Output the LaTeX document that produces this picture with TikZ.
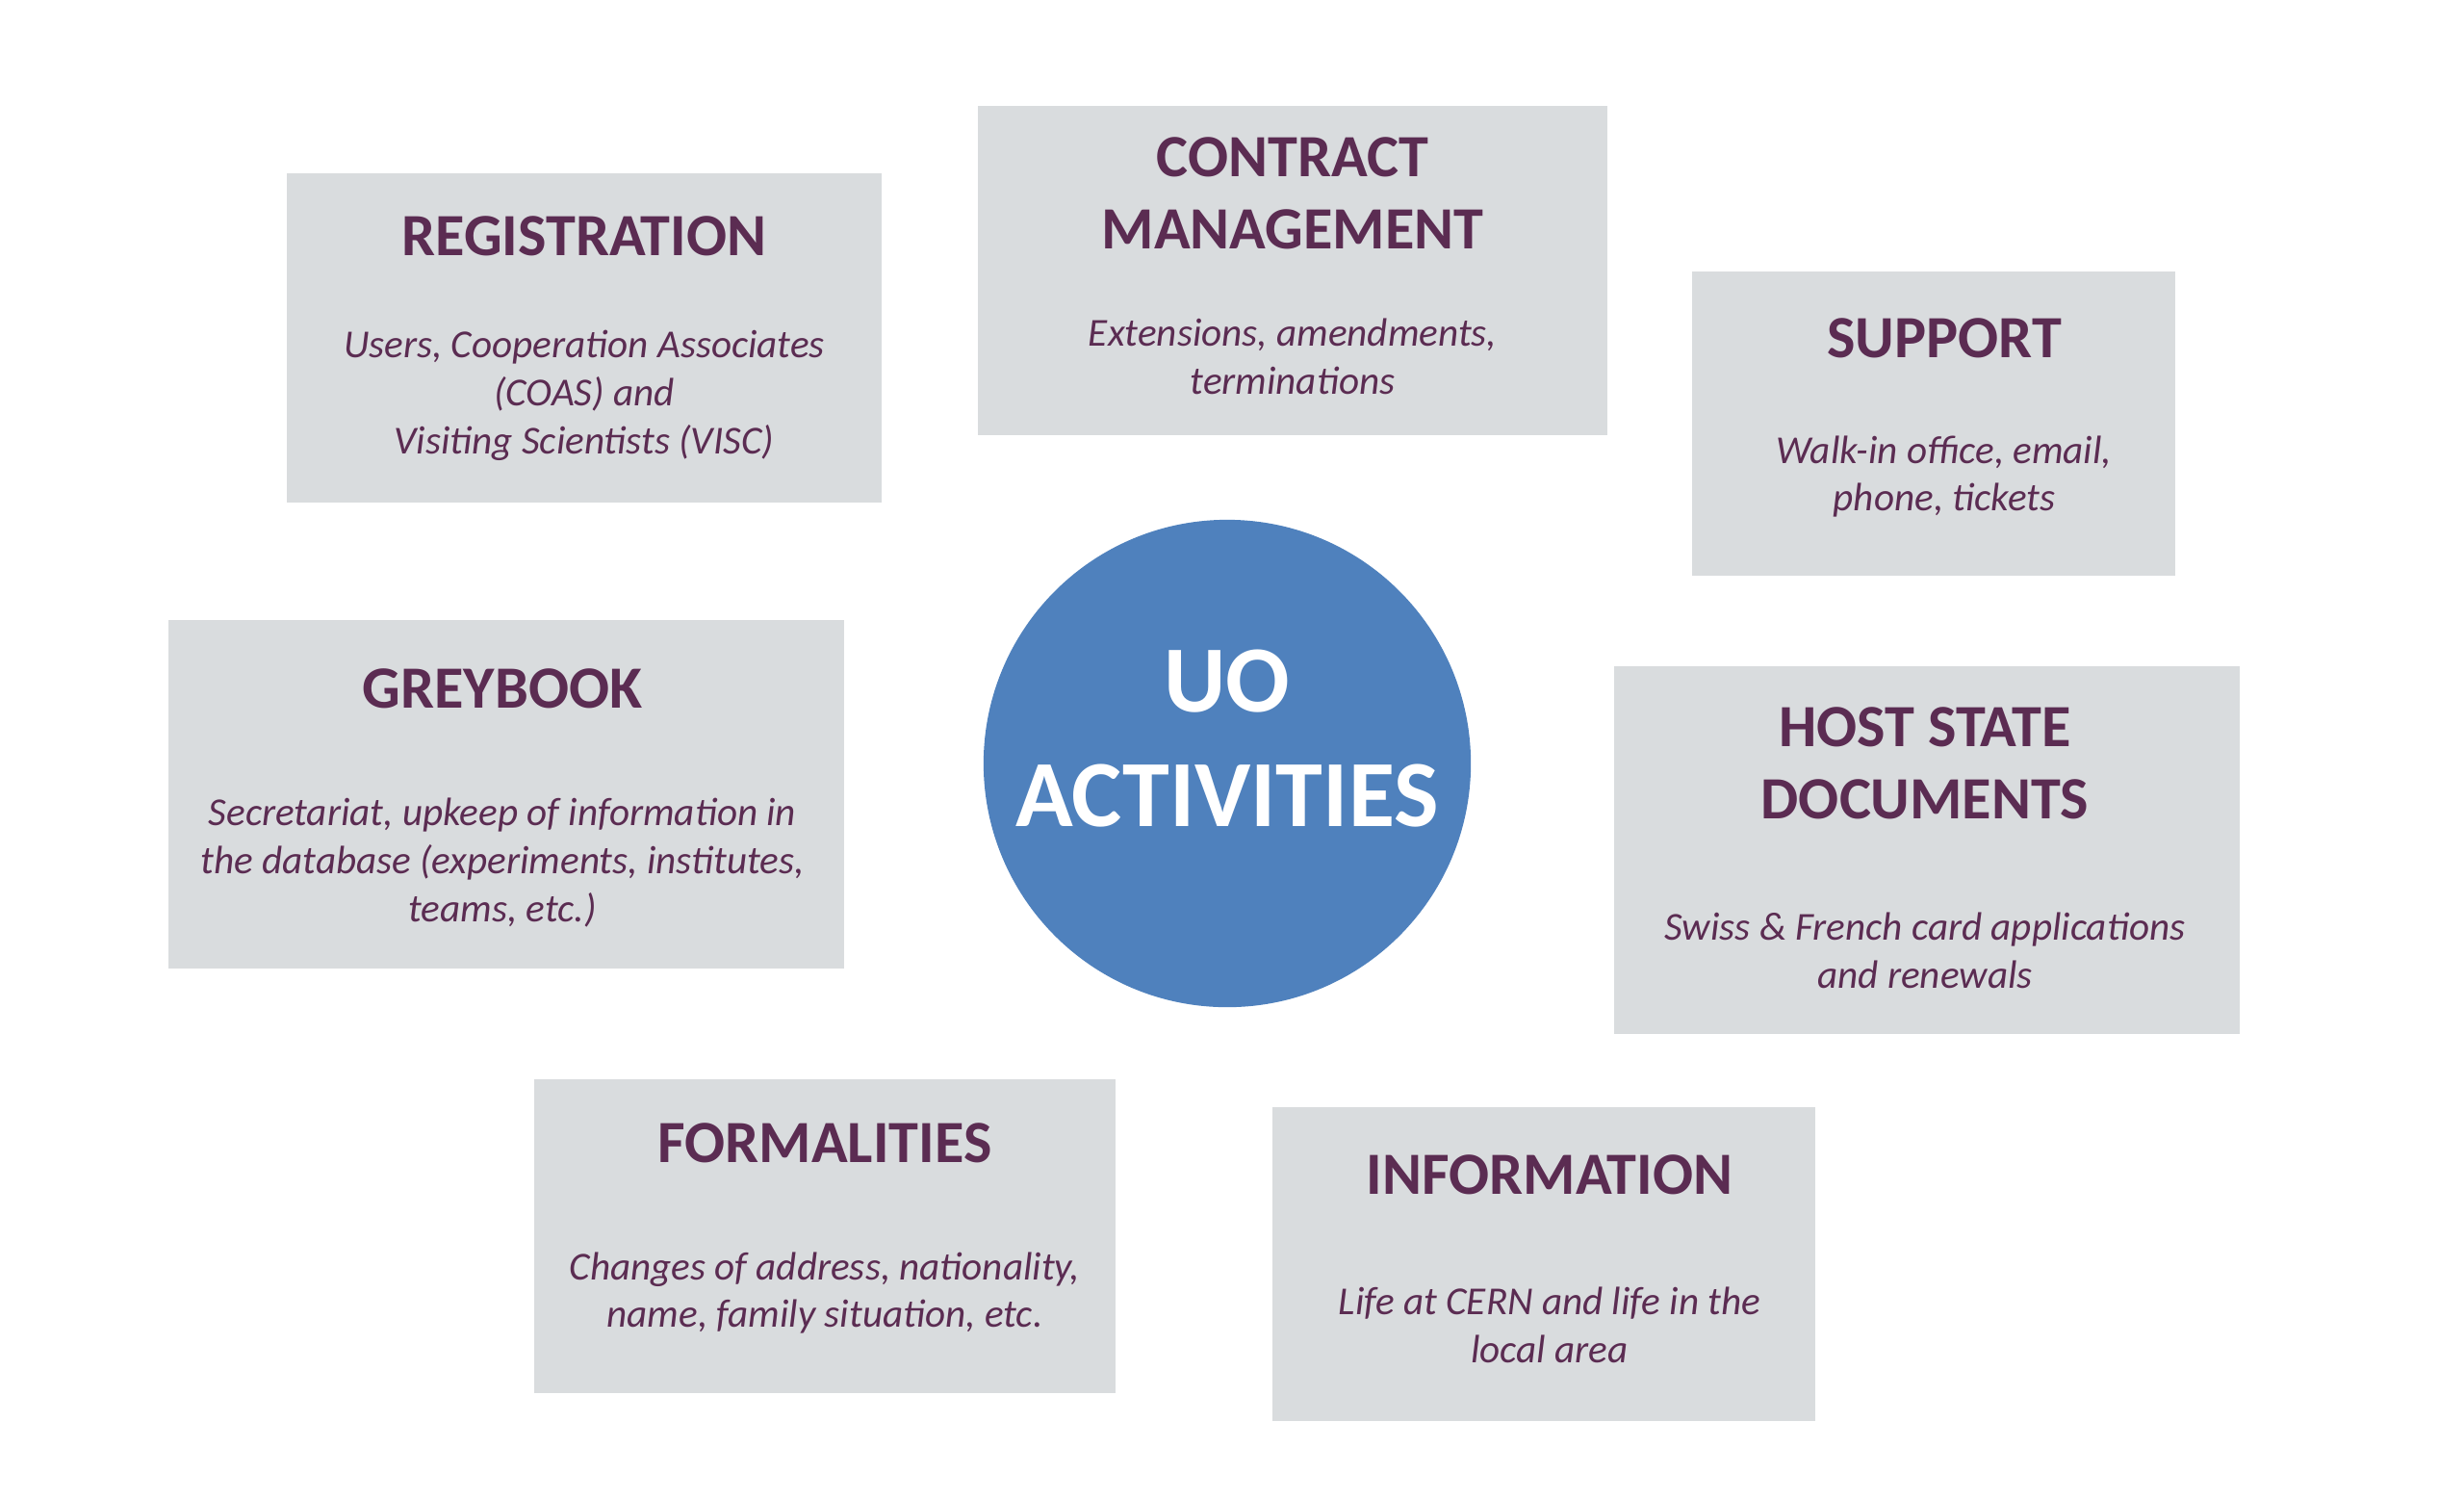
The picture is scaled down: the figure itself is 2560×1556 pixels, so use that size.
\documentclass[tikz,border=0pt]{standalone}
\usepackage{fontspec}
\setmainfont{Carlito}
\usetikzlibrary{positioning}
\definecolor{boxgrey}{HTML}{D9DCDE}
\definecolor{plum}{HTML}{5B2C52}
\definecolor{uoblue}{HTML}{4F81BD}

\begin{document}
\begin{tikzpicture}[x=0.01cm, y=-0.01cm,
    panel/.style={fill=boxgrey, inner sep=0pt},
    heading/.style={text=plum, align=center, inner sep=0pt, font=\bfseries\fontsize{17.7}{21.3}\selectfont},
    detail/.style={text=plum, align=center, inner sep=0pt, font=\itshape\fontsize{11.7}{14.2}\selectfont},
    hub/.style={circle, fill=uoblue, minimum size=5.06cm, inner sep=0pt}]
    \useasboundingbox (0,0) rectangle (2560,1556);

    % Registration
    \node[panel, minimum width=6.17cm, minimum height=3.42cm] (reg) at (607,351) {};
    \node[heading] (regtitle) at (607,245) {REGISTRATION};
    \node[detail] (regtext) at (607,411) {Users, Cooperation Associates\\(COAS) and\\Visiting Scientists (VISC)};

    % Contract management
    \node[panel, minimum width=6.54cm, minimum height=3.41cm] (con) at (1343,281) {};
    \node[heading] (contitle) at (1343,201) {CONTRACT\\MANAGEMENT};
    \node[detail] (context) at (1343,370) {Extensions, amendments,\\terminations};

    % Support
    \node[panel, minimum width=5.02cm, minimum height=3.16cm] (sup) at (2009,440) {};
    \node[heading] (suptitle) at (2020,351) {SUPPORT};
    \node[detail] (suptext) at (2020,495) {Walk-in office, email,\\phone, tickets};

    % Greybook
    \node[panel, minimum width=7.01cm, minimum height=3.61cm] (grey) at (526,825) {};
    \node[heading] (greytitle) at (522,715) {GREYBOOK};
    \node[detail] (greytext) at (522,896) {Secretariat, upkeep of information in\\the database (experiments, institutes,\\teams, etc.)};

    % Host state documents
    \node[panel, minimum width=6.49cm, minimum height=3.82cm] (host) at (2002,883) {};
    \node[heading] (hosttitle) at (2000,793) {HOST STATE\\DOCUMENTS};
    \node[detail] (hosttext) at (2000,987) {Swiss \& French card applications\\and renewals};

    % Formalities
    \node[panel, minimum width=6.04cm, minimum height=3.25cm] (form) at (857,1284) {};
    \node[heading] (formtitle) at (857,1187) {FORMALITIES};
    \node[detail] (formtext) at (857,1343) {Changes of address, nationality,\\name, family situation, etc.};

    % Information
    \node[panel, minimum width=5.64cm, minimum height=3.25cm] (info) at (1604,1313) {};
    \node[heading] (infotitle) at (1610,1220) {INFORMATION};
    \node[detail] (infotext) at (1610,1376) {Life at CERN and life in the\\local area};

    % Centre
    \node[hub] (uo) at (1275,793) {};
    \node[text=white, align=center, inner sep=0pt, font=\bfseries\fontsize{28}{34}\selectfont] (uotitle) at (1275,767) {UO\\ACTIVITIES};
\end{tikzpicture}
\end{document}
